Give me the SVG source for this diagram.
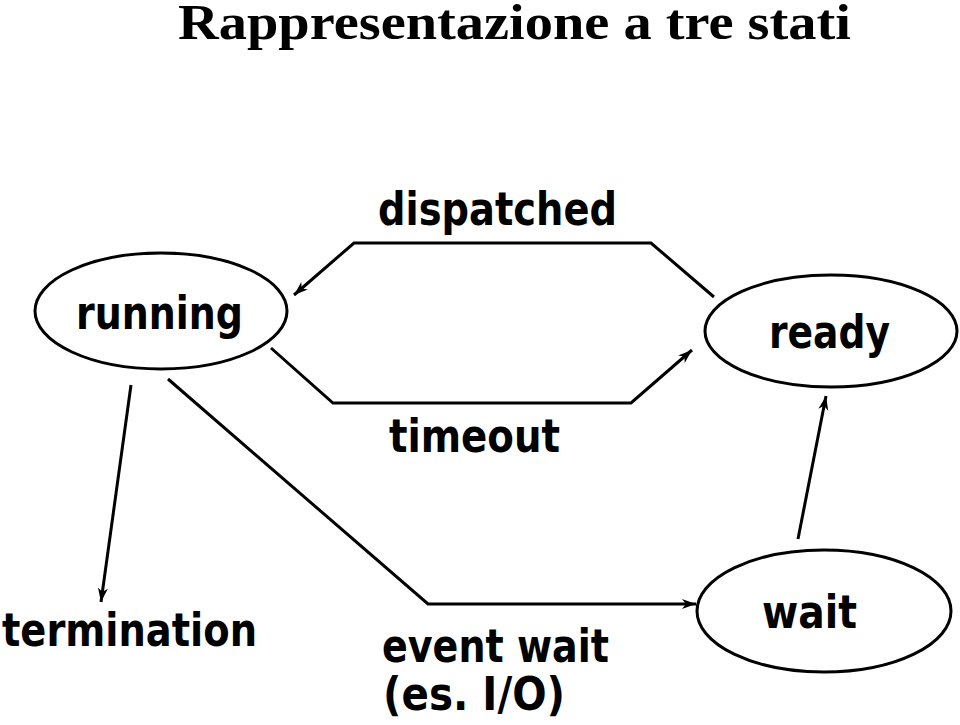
<svg xmlns="http://www.w3.org/2000/svg" width="960" height="725" viewBox="0 0 960 725">
<defs>
<style>
.node ellipse{fill:#fff;stroke:#000;stroke-width:3}
.lbl{font-family:"DejaVu Sans","Verdana",sans-serif;font-weight:bold;font-size:46px;fill:#000}
.title{font-family:"Liberation Serif","Times New Roman",serif;font-weight:bold;font-size:50px;fill:#000}
.edge{fill:none;stroke:#000;stroke-width:3;stroke-linejoin:miter;marker-end:url(#arr)}
</style>
<marker id="arr" markerUnits="userSpaceOnUse" markerWidth="16" markerHeight="12" refX="14" refY="5" orient="auto" viewBox="0 0 16 10">
<path d="M0,0 L14,5 L0,10 L4,5 z" fill="#000"/>
</marker>
</defs>
<rect width="960" height="725" fill="#fff"/>
<text class="title" x="178" y="39" textLength="673" lengthAdjust="spacingAndGlyphs">Rappresentazione a tre stati</text>

<g id="connectors">
<path class="edge" d="M714,297 L651,243 L354,243 L294,295"/>
<path class="edge" d="M271,348 L333,403 L631,403 L692,350"/>
<path class="edge" d="M131,385 L101,602"/>
<path class="edge" d="M168,379 L428,604 L696,604"/>
<path class="edge" d="M798,539 L826,396"/>
</g>

<g id="running" class="node">
<ellipse cx="161" cy="311" rx="126" ry="58"/>
<text class="lbl" x="76" y="329" textLength="167" lengthAdjust="spacingAndGlyphs">running</text>
</g>
<g id="ready" class="node">
<ellipse cx="831" cy="331" rx="126" ry="56"/>
<text class="lbl" x="769" y="348" textLength="121" lengthAdjust="spacingAndGlyphs">ready</text>
</g>
<g id="wait" class="node">
<ellipse cx="824" cy="611" rx="127" ry="61"/>
<text class="lbl" x="762" y="628" textLength="95" lengthAdjust="spacingAndGlyphs">wait</text>
</g>

<g id="labels">
<text class="lbl" x="378" y="225" textLength="239" lengthAdjust="spacingAndGlyphs">dispatched</text>
<text class="lbl" x="389" y="452" textLength="171" lengthAdjust="spacingAndGlyphs">timeout</text>
<text class="lbl" x="2" y="646" textLength="255" lengthAdjust="spacingAndGlyphs">termination</text>
<text class="lbl" x="382" y="662" textLength="227" lengthAdjust="spacingAndGlyphs">event wait</text>
<text class="lbl" x="383" y="710" textLength="182" lengthAdjust="spacingAndGlyphs">(es. I/O)</text>
</g>
</svg>
